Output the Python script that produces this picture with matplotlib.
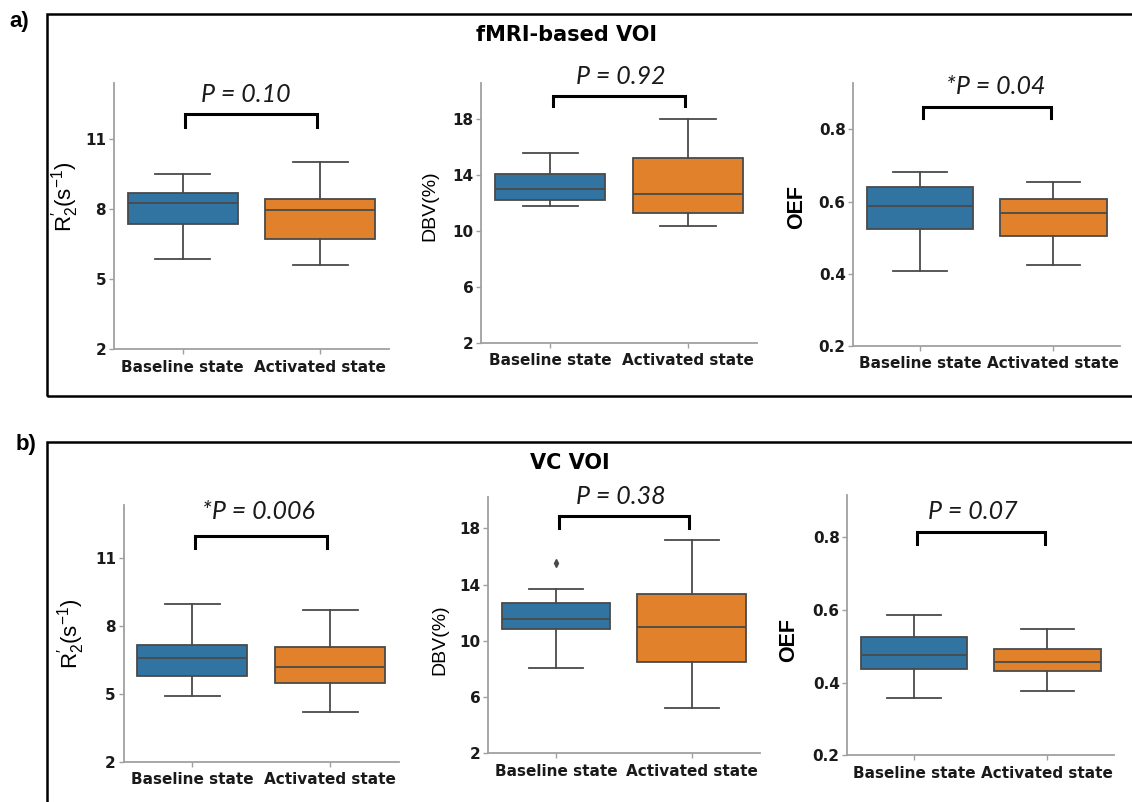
import matplotlib
matplotlib.use("Agg")
import matplotlib.pyplot as plt
from matplotlib.patches import Rectangle

# box statistics: [whislo, q1, med, q3, whishi]
groups = ["Baseline state", "Activated state"]

r2_fmri_base = [5.86, 7.38, 8.28, 8.71, 9.51]
r2_fmri_act = [5.60, 6.71, 7.98, 8.45, 10.01]
dbv_fmri_base = [11.79, 12.17, 13.00, 14.07, 15.57]
dbv_fmri_act = [10.36, 11.26, 12.62, 15.17, 17.96]
oef_fmri_base = [0.409, 0.525, 0.588, 0.639, 0.681]
oef_fmri_act = [0.424, 0.505, 0.568, 0.607, 0.655]

r2_vc_base = [4.89, 5.79, 6.60, 7.18, 8.96]
r2_vc_act = [4.20, 5.47, 6.18, 7.06, 8.71]
dbv_vc_base = [8.07, 10.82, 11.53, 12.71, 13.71]
dbv_vc_act = [5.24, 8.49, 10.98, 13.33, 17.15]
oef_vc_base = [0.357, 0.4375, 0.477, 0.526, 0.585]
oef_vc_act = [0.378, 0.433, 0.458, 0.492, 0.548]
dbv_vc_base_fliers = [15.56]

p_texts = ["P = 0.10", "P = 0.92", "*P = 0.04", "*P = 0.006", "P = 0.38", "P = 0.07"]
p_text_x = [0.46, 0.51, 0.57, 0.477, 0.48, 0.44]
p_text_y = [12.94, 21.0, 0.918, 13.06, 20.25, 0.871]
bracket_y = [12.08, 19.62, 0.863, 11.99, 18.88, 0.815]
bracket_tip = [11.54, 18.91, 0.830, 11.44, 18.00, 0.782]

y_ticks_r2 = [2, 5, 8, 11]
y_ticks_dbv = [2, 6, 10, 14, 18]
y_ticks_oef = [0.2, 0.4, 0.6, 0.8]

W, H = 1132, 802
fig = plt.figure(figsize=(W / 100, H / 100), dpi=100)

def px_axes(l, r, t, b):
    return fig.add_axes([l / W, 1 - b / H, (r - l) / W, (b - t) / H])

colors = ["#3274a1", "#e1812c"]
line_c = "#4a4a4a"

def stats(v, fl=()):
    return dict(whislo=v[0], q1=v[1], med=v[2], q3=v[3], whishi=v[4], fliers=list(fl))

# panel layout in pixels: left, right, top, bottom
boxes_px = [(113.8, 388.8, 82.7, 349.3), (481.3, 756.9, 82.7, 342.7), (853.3, 1120, 82.7, 346),
            (123.5, 399, 505, 761.7), (488.2, 759.5, 496.7, 753.3), (847.3, 1114, 495, 755.3)]
ylims = [(2, 13.43), (2, 20.57), (0.2, 0.929), (2, 13.36), (2, 20.25), (0.2, 0.916)]
data = [(r2_fmri_base, r2_fmri_act, []), (dbv_fmri_base, dbv_fmri_act, []), (oef_fmri_base, oef_fmri_act, []),
        (r2_vc_base, r2_vc_act, []), (dbv_vc_base, dbv_vc_act, dbv_vc_base_fliers), (oef_vc_base, oef_vc_act, [])]
yticks = [y_ticks_r2, y_ticks_dbv, y_ticks_oef] * 2
r2_lab = r"$\mathregular{R_2^{\prime}(s^{-1})}$"
ylabels = [r2_lab, "DBV(%)", "OEF"] * 2
ylab_size = [16, 14, 15.5] * 2
ylab_weight = ["normal", "normal", "bold"] * 2
ylab_pos = [(-0.177, 0.571), (-0.186, 0.527), (-0.212, 0.529),
            (-0.191, 0.497), (-0.178, 0.442), (-0.219, 0.443)]

for i in range(6):
    ax = px_axes(*boxes_px[i])
    base, act, fl = data[i]
    res = ax.bxp([stats(base, fl), stats(act)], positions=[0, 1], widths=0.8, capwidths=0.4,
                 patch_artist=True, showfliers=True,
                 boxprops=dict(edgecolor=line_c, linewidth=1.3),
                 whiskerprops=dict(color=line_c, linewidth=1.3),
                 capprops=dict(color=line_c, linewidth=1.3),
                 medianprops=dict(color=line_c, linewidth=1.3),
                 flierprops=dict(marker="d", markerfacecolor=line_c, markeredgecolor=line_c, markersize=4))
    for b, c in zip(res["boxes"], colors):
        b.set_facecolor(c)
    ax.set_xlim(-0.5, 1.5)
    ax.set_ylim(*ylims[i])
    ax.set_yticks(yticks[i])
    ax.set_xticks([0, 1])
    ax.set_xticklabels(groups)
    for s in ["top", "right"]:
        ax.spines[s].set_visible(False)
    for s in ["left", "bottom"]:
        ax.spines[s].set_color("#a0a0a0")
        ax.spines[s].set_linewidth(1.3)
    ax.tick_params(axis="both", colors="#a0a0a0", labelcolor="#1a1a1a", labelsize=11, length=3.5, width=1)
    for t in ax.get_xticklabels() + ax.get_yticklabels():
        t.set_fontweight("bold")
    ax.tick_params(axis="x", pad=4)
    ax.tick_params(axis="y", pad=2)
    ax.set_ylabel(ylabels[i], fontsize=ylab_size[i], fontweight=ylab_weight[i],
                  family=["Liberation Sans", "DejaVu Sans"], va="center")
    ax.yaxis.set_label_coords(*ylab_pos[i])
    ax.patch.set_alpha(0)

    # significance bracket
    x0, x1 = 0.02, 0.98
    ax.plot([x0, x0, x1, x1], [bracket_tip[i], bracket_y[i], bracket_y[i], bracket_tip[i]],
            color="black", lw=2.2, clip_on=False, solid_joinstyle="miter")
    ax.text(p_text_x[i], p_text_y[i], p_texts[i], ha="center", va="center", fontsize=18,
            style="italic", family=["Lato", "DejaVu Sans"], color="#1a1a1a", clip_on=False)

# panel frames
fig.patches.append(Rectangle((47 / W, 1 - 396 / H), (1140 - 47) / W, (396 - 14) / H,
                             transform=fig.transFigure, fill=False, edgecolor="black", linewidth=1.8))
fig.patches.append(Rectangle((47 / W, 1 - 810 / H), (1140 - 47) / W, (810 - 441.7) / H,
                             transform=fig.transFigure, fill=False, edgecolor="black", linewidth=1.8))

fig.text(19 / W, 1 - 22 / H, "a)", fontsize=16, fontweight="bold", ha="center", va="center",
         family=["Liberation Sans", "DejaVu Sans"])
fig.text(26.5 / W, 1 - 444 / H, "b)", fontsize=16, fontweight="bold", ha="center", va="center",
         family=["Liberation Sans", "DejaVu Sans"])
fig.text(567 / W, 1 - 35 / H, "fMRI-based VOI", fontsize=15, fontweight="bold", ha="center", va="center")
fig.text(569.5 / W, 1 - 463 / H, "VC VOI", fontsize=15, fontweight="bold", ha="center", va="center")

fig.savefig("out.png", dpi=100)
